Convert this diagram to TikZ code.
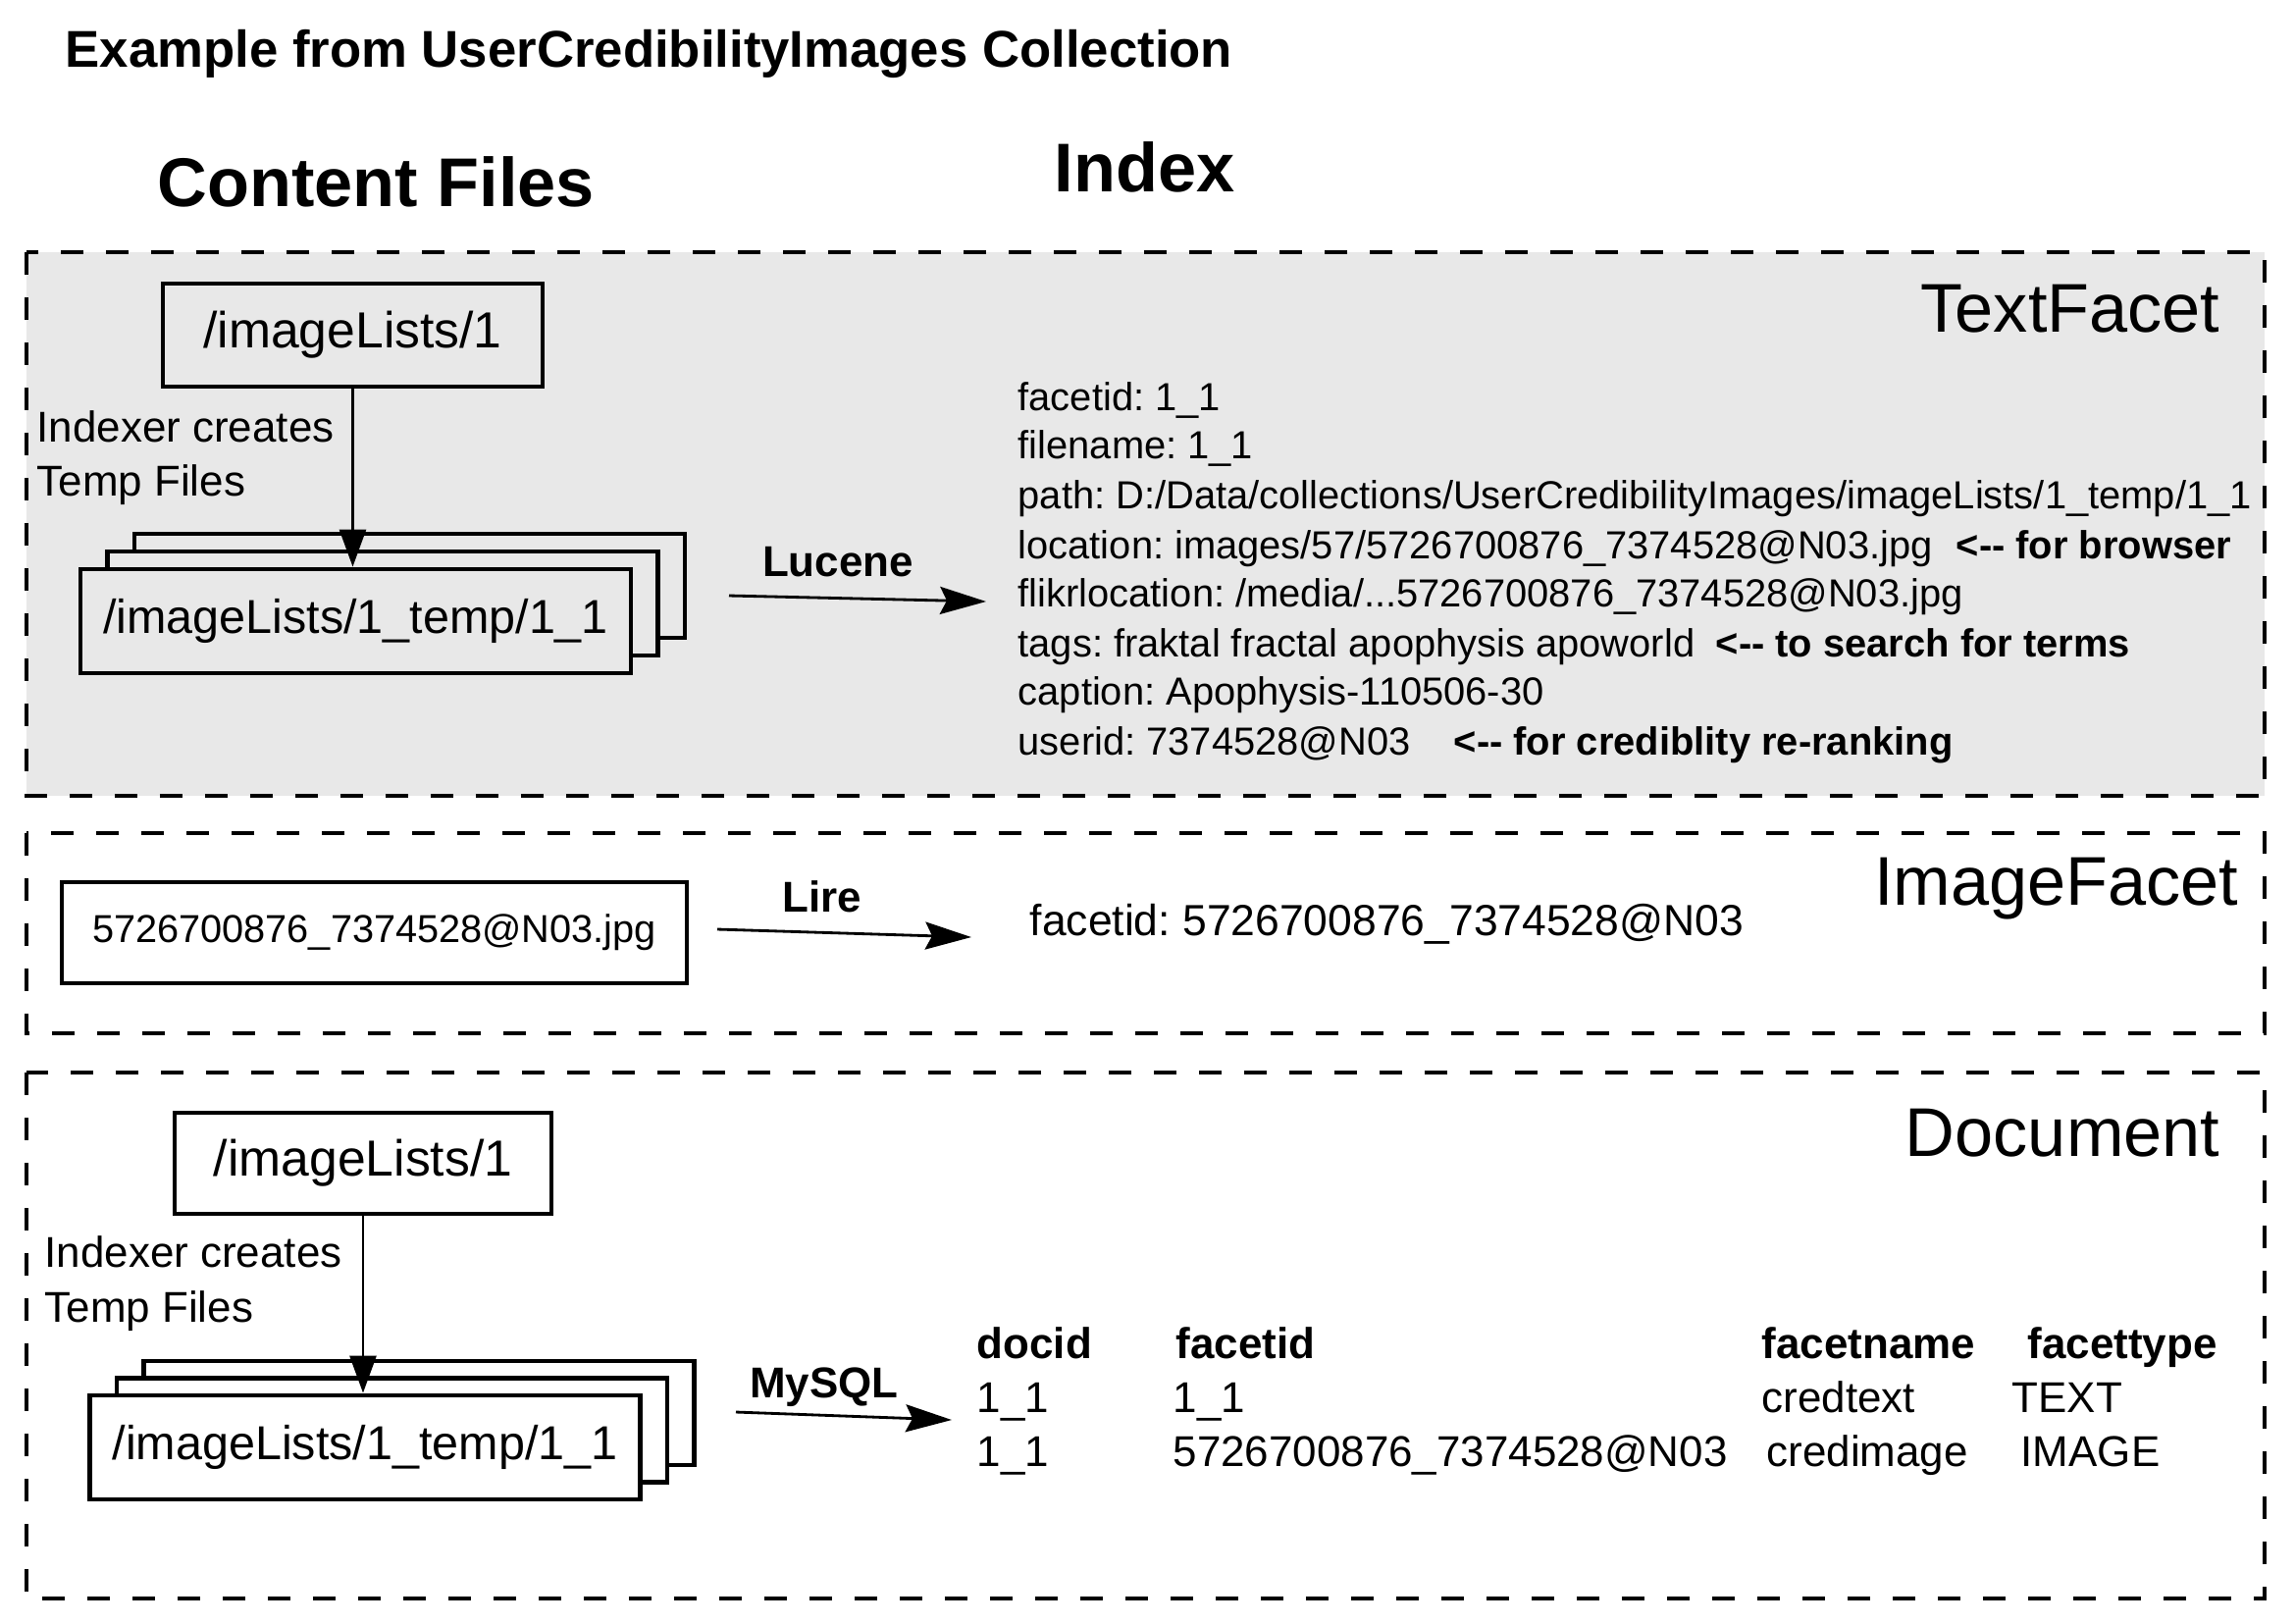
\documentclass[tikz,border=0pt]{standalone}
\usepackage{fontspec}
\setmainfont{Liberation Sans}
\usetikzlibrary{arrows.meta, calc, positioning}

\definecolor{panelgray}{RGB}{232,232,232}
\newcommand{\fsz}[1]{\fontsize{#1}{#1}\selectfont}
\frenchspacing

\tikzset{
  panel/.style={draw, line width=1.35pt, dash pattern=on 2.3mm off 2.3mm},
  filebox/.style={draw, line width=1.4pt, inner sep=0pt, font=\fsz{14.7}},
  tmpbox/.style={filebox, font=\fsz{13.8}, minimum width=56.1mm, minimum height=10.6mm},
  arr/.style={line width=0.8pt, -{Stealth[length=4.7mm, width=2.8mm, inset=0.7mm]}},
  downarr/.style={line width=0.8pt, -{Triangle[length=3.8mm, width=2.7mm]}},
  txt/.style={inner sep=0pt, anchor=base west},
  facettitle/.style={inner sep=0pt, anchor=base east, font=\fsz{20}},
  tool/.style={inner sep=0pt, anchor=base, font=\bfseries\fsz{12.5}},
  field/.style={txt, font=\fsz{11.35}},
  note/.style={txt, font=\bfseries\fsz{11.35}},
  cell/.style={txt, font=\fsz{12.5}},
  colhead/.style={txt, font=\bfseries\fsz{12.5}}
}

\begin{document}
\begin{tikzpicture}[x=0.1mm, y=-0.1mm]
  \useasboundingbox (0,0) rectangle (2339,1654);
  \fill[white] (0,0) rectangle (2339,1654);

  % headings
  \node[txt, font=\bfseries\fsz{15}] (title) at (66,68) {Example from UserCredibilityImages Collection};
  \node[txt, font=\bfseries\fsz{20}] (cfiles) at (160,210) {Content Files};
  \node[txt, font=\bfseries\fsz{20}] (index) at (1074,195) {Index};

  % TextFacet
  \filldraw[panel, fill=panelgray] (27,257) rectangle (2308,811);
  \node[facettitle] (tfacet) at (2263,338) {TextFacet};

  \node[filebox, fill=panelgray, minimum width=38.7mm, minimum height=10.5mm] (lists1) at (359.5,341.5) {/imageLists/1};
  \coordinate (stack1) at (362.5,633);
  \node[tmpbox, fill=panelgray] (tmp1c) at ($(stack1)+(55,-36)$) {};
  \node[tmpbox, fill=panelgray] (tmp1b) at ($(stack1)+(27.5,-18)$) {};
  \node[tmpbox, fill=panelgray] (tmp1a) at (stack1) {/imageLists/1\_temp/1\_1};
  \node[txt, font=\fsz{12.5}] (idx1a) at (37,450) {Indexer creates};
  \node[txt, font=\fsz{12.5}] (idx1b) at (37,505) {Temp Files};
  \draw[downarr] (lists1.south) -- (lists1.south |- tmp1a.north);

  \coordinate (luc0) at (743,607);
  \coordinate (luc1) at (1005,613);
  \draw[arr] (luc0) -- (luc1);
  \node[tool] (lucene) at (854,587) {Lucene};

  \node[field] (f1) at (1037,418) {facetid: 1\_1};
  \node[field] (f2) at (1037,467) {filename: 1\_1};
  \node[field] (f3) at (1037,518) {path: D:/Data/collections/UserCredibilityImages/imageLists/1\_temp/1\_1};
  \node[field] (f4) at (1037,569) {location: images/57/5726700876\_7374528@N03.jpg};
  \node[field] (f5) at (1037,618) {flikrlocation: /media/...5726700876\_7374528@N03.jpg};
  \node[field] (f6) at (1037,669) {tags: fraktal fractal apophysis apoworld};
  \node[field] (f7) at (1037,718) {caption: Apophysis-110506-30};
  \node[field] (f8) at (1037,769) {userid: 7374528@N03};
  \node[note] (n4) at (1993,569) {<-{}- for browser};
  \node[note] (n6) at (1748,669) {<-{}- to search for terms};
  \node[note] (n8) at (1481,769) {<-{}- for crediblity re-ranking};

  % ImageFacet
  \draw[panel] (27,849) rectangle (2308,1053);
  \node[facettitle] (ifacet) at (2282,922) {ImageFacet};
  \node[filebox, font=\fsz{11.3}, minimum width=63.7mm, minimum height=10.3mm] (jpg) at (381.5,950.5) {5726700876\_7374528@N03.jpg};
  \coordinate (lire0) at (731,947);
  \coordinate (lire1) at (990,955);
  \draw[arr] (lire0) -- (lire1);
  \node[tool] (lire) at (838,929) {Lire};
  \node[cell, font=\fsz{12.65}] (imgid) at (1049,953) {facetid: 5726700876\_7374528@N03};

  % Document
  \draw[panel] (27,1093) rectangle (2308,1629);
  \node[facettitle] (docu) at (2263,1178) {Document};

  \node[filebox, minimum width=38.4mm, minimum height=10.3mm] (lists2) at (370,1185.5) {/imageLists/1};
  \coordinate (stack2) at (372,1475);
  \node[tmpbox, fill=white] (tmp2c) at ($(stack2)+(55,-35)$) {};
  \node[tmpbox, fill=white] (tmp2b) at ($(stack2)+(27.5,-17.5)$) {};
  \node[tmpbox, fill=white] (tmp2a) at (stack2) {/imageLists/1\_temp/1\_1};
  \node[txt, font=\fsz{12.5}] (idx2a) at (45,1291) {Indexer creates};
  \node[txt, font=\fsz{12.5}] (idx2b) at (45,1347) {Temp Files};
  \draw[downarr] (lists2.south) -- (lists2.south |- tmp2a.north);

  \coordinate (sql0) at (750,1439);
  \coordinate (sql1) at (970,1447);
  \draw[arr] (sql0) -- (sql1);
  \node[tool] (mysql) at (840,1424) {MySQL};

  \node[colhead] (hdoc) at (995,1384) {docid};
  \node[colhead] (hfid) at (1198,1384) {facetid};
  \node[colhead] (hfname) at (1795,1384) {facetname};
  \node[colhead] (hftype) at (2066,1384) {facettype};
  \node[cell] (doc1) at (995,1439) {1\_1};
  \node[cell] (fid1) at (1195,1439) {1\_1};
  \node[cell] (fname1) at (1795,1439) {credtext};
  \node[cell] (ftype1) at (2050,1439) {TEXT};
  \node[cell] (doc2) at (995,1494) {1\_1};
  \node[cell] (fid2) at (1195,1494) {5726700876\_7374528@N03};
  \node[cell] (fname2) at (1800,1494) {credimage};
  \node[cell] (ftype2) at (2059,1494) {IMAGE};
\end{tikzpicture}
\end{document}
